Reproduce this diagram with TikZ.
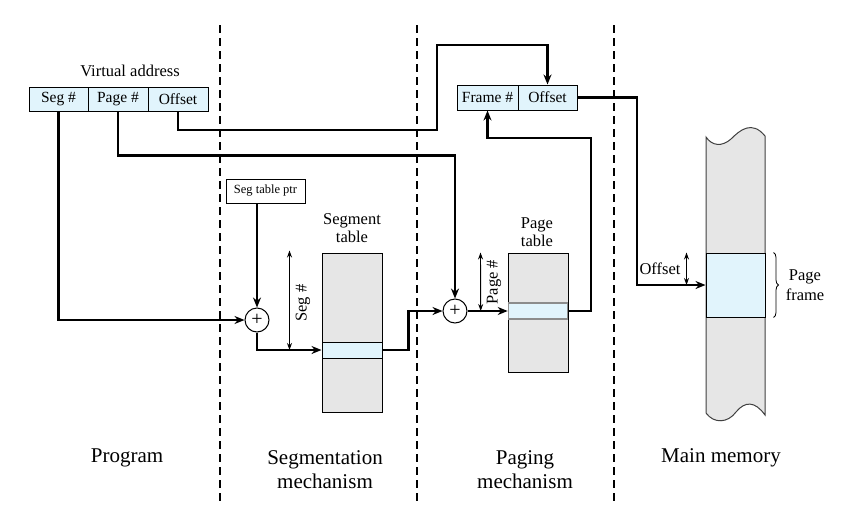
\documentclass[tikz,border=0pt]{standalone}
\usepackage{fontspec}
\setmainfont{Liberation Serif}
\usetikzlibrary{arrows.meta,decorations.pathreplacing}
\definecolor{lblue}{HTML}{E1F4FC}
\definecolor{lgray}{HTML}{E6E6E6}
\begin{document}
\begin{tikzpicture}[x=1pt,y=-1pt,
  cell/.style={draw, fill=lblue, line width=1, inner sep=0, font=\fontsize{15.5}{17}\selectfont},
  conn/.style={line width=2.4},
  arr/.style={conn, -{Stealth[length=10,width=8]}},
  dimarr/.style={line width=0.9, {Stealth[length=7,width=5]}-{Stealth[length=7,width=5]}},
  divider/.style={line width=2.6, dash pattern=on 8 off 5},
  plusnode/.style={circle, draw, line width=1, minimum size=24, inner sep=0, fill=white, font=\fontsize{20}{20}\selectfont},
  small/.style={font=\fontsize{16.5}{18}\selectfont, align=center, inner sep=0},
  big/.style={font=\fontsize{21}{24}\selectfont, align=center},
  tab/.style={draw, fill=lgray, line width=1, inner sep=0, minimum width=60}
]
\useasboundingbox (0,0) rectangle (866,522);

% dividers
\draw[divider] (220,25) -- (220,505);
\draw[divider] (417,25) -- (417,505);
\draw[divider] (614,25) -- (614,505);

% virtual address
\node[small] (valabel) at (130,71) {Virtual address};
\node[cell, minimum width=59, minimum height=24] (seg) at (58.5,99) {Seg \#};
\node[cell, minimum width=60, minimum height=24] (page) at (118,99) {Page \#};
\node[cell, minimum width=60, minimum height=24] (off) at (178,99) {Offset};

% frame / offset
\node[cell, minimum width=61, minimum height=25] (frame) at (487.5,97.5) {Frame \#};
\node[cell, minimum width=59, minimum height=25] (off2) at (547.5,97.5) {Offset};

% seg table ptr
\node[draw, line width=1, minimum width=79, minimum height=24, inner sep=0, font=\fontsize{12.5}{14}\selectfont] (ptr) at (265.5,191) {Seg table ptr};

% adders
\node[plusnode] (plus1) at (257,320) {+};
\node[plusnode] (plus2) at (455,311) {+};

% segment table
\node[tab, minimum height=159] (segtab) at (352,332.5) {};
\node[draw, fill=lblue, line width=1, inner sep=0, minimum width=60, minimum height=16] (segent) at (352,350) {};
\node[small] (seglabel) at (352,228) {Segment\\table};

% page table
\node[tab, minimum height=119] (pagetab) at (538,312.5) {};
\node[draw=black!45, fill=lblue, line width=1.6, inner sep=0, minimum width=59, minimum height=16] (pageent) at (538,311) {};
\node[small] (pagelabel) at (537,232) {Page\\table};

% main memory
\draw[fill=lgray, draw=black!75, line width=1] (706,137) .. controls (712,146) and (722,147) .. (731,139) .. controls (740,130) and (752,120) .. (765,136) -- (765,415) .. controls (755,401) and (745,401) .. (736,412) .. controls (728,423) and (714,424) .. (706,413) -- cycle;
\node[draw, fill=lblue, line width=1, inner sep=0, minimum width=59, minimum height=64] (pframe) at (735.5,285) {};
\node[small, font=\fontsize{16.5}{20}\selectfont] (pflabel) at (805,285) {Page\\frame};
\draw[line width=0.8, decorate, decoration={brace, amplitude=5}] ([xshift=8]pframe.north east) -- ([xshift=8]pframe.south east);

% connectors
\coordinate (c1) at (591,138);
\coordinate (c2) at (437,130);
\coordinate (c3) at (437,45);
\coordinate (c4) at (637,97.5);
\draw[arr] (seg.south) |- (plus1);
\draw[arr] (ptr.south -| plus1) -- (plus1);
\draw[arr] (plus1.south) |- (segent.west);
\draw[arr] (segent.east) -- ++(26,0) |- (plus2.west);
\draw[arr] (page.south) -- ++(0,44) -| (plus2.north);
\draw[arr] (plus2) -- (pageent.west);
\draw[arr] (pageent.east) -| (c1) -| (frame.south);
\draw[arr] (off.south) |- (c2) -- (c3) -| (off2.north);
\draw[arr] (off2.east) -- (c4) |- (pframe.west);

% dimension arrows
\draw[dimarr] ([xshift=-32,yshift=2]segtab.north west) -- ([xshift=-32]segent.west);
\node[small, rotate=90] (seghash) at (303,303) {Seg \#};
\draw[dimarr] ([xshift=-27]pagetab.north west) -- ([xshift=-27]pageent.west);
\node[small, rotate=90] (pagehash) at (494,282) {Page \#};
\draw[dimarr] ([xshift=-19]pframe.north west) -- ([xshift=-19]pframe.west);
\node[small] (offlabel) at (660,269) {Offset};

% bottom labels
\node[big] (prog) at (127,458) {Program};
\node[big] (segm) at (325,470) {Segmentation\\mechanism};
\node[big] (pagm) at (525,470) {Paging\\mechanism};
\node[big] (mainm) at (721,458) {Main memory};
\end{tikzpicture}
\end{document}
